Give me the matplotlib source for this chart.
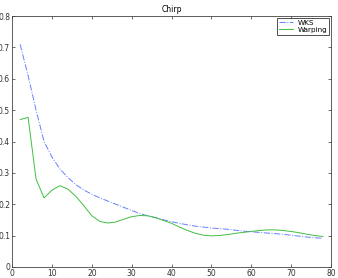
import numpy as np
import matplotlib.pyplot as plt

# ---------- Data ----------
x = list(range(2, 80, 2))

wks = [0.710, 0.610, 0.500, 0.400, 0.350, 0.312, 0.285, 0.262, 0.245, 0.232,
       0.220, 0.210, 0.200, 0.190, 0.180, 0.170, 0.163, 0.157, 0.150, 0.144,
       0.139, 0.134, 0.130, 0.127, 0.124, 0.122, 0.120, 0.117, 0.114, 0.112,
       0.110, 0.108, 0.106, 0.104, 0.101, 0.098, 0.095, 0.093, 0.091]

warping = [0.470, 0.477, 0.280, 0.220, 0.245, 0.259, 0.248, 0.225, 0.195, 0.163,
           0.145, 0.140, 0.143, 0.152, 0.160, 0.164, 0.163, 0.157, 0.148, 0.139,
           0.127, 0.116, 0.107, 0.101, 0.099, 0.100, 0.103, 0.107, 0.110, 0.113,
           0.116, 0.118, 0.118, 0.116, 0.113, 0.109, 0.104, 0.100, 0.097]

xticks = [0, 10, 20, 30, 40, 50, 60, 70, 80]
yticks = [0, 0.1, 0.2, 0.3, 0.4, 0.5, 0.6, 0.7, 0.8]

# ---------- Plot ----------
plt.rcParams["font.family"] = "DejaVu Sans"
fig = plt.figure(figsize=(3.38, 2.78), dpi=100)
ax = fig.add_axes([0.036, 0.040, 0.943, 0.902])

ax.plot(x, wks, color="#6680ff", linestyle="-.", linewidth=0.7, label="WKS")
ax.plot(x, warping, color="#40c040", linestyle="-", linewidth=0.7, label="Warping")

ax.set_xlim(0, 80)
ax.set_ylim(0, 0.8)
ax.set_xticks(xticks)
ax.set_yticks(yticks)
ax.set_xticklabels([str(t) for t in xticks])
ax.set_yticklabels(["0"] + [f"{t:.1f}" for t in yticks[1:]])
ax.tick_params(direction="in", length=2.5, width=0.5, labelsize=5.5, pad=1.5,
               top=True, right=True, colors="#333333")
for s in ax.spines.values():
    s.set_linewidth(0.6)
    s.set_color("#444444")

ax.set_title("Chirp", fontsize=5.5, pad=3)

leg = ax.legend(loc="upper right", fontsize=5.2, frameon=True, fancybox=False,
                borderaxespad=0.25, handlelength=2.0, borderpad=0.25,
                labelspacing=0.15, handletextpad=0.6)
leg.get_frame().set_edgecolor("black")
leg.get_frame().set_linewidth(0.6)

fig.savefig("out.png", dpi=100)
